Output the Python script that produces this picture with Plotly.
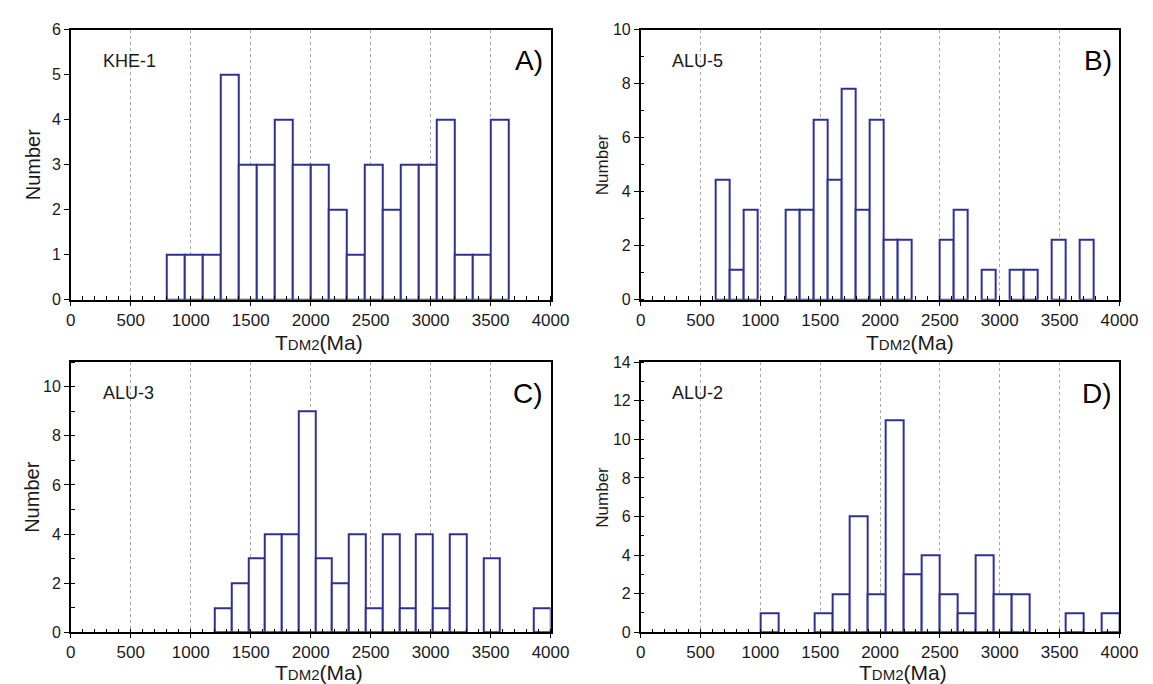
import plotly.graph_objects as go

# ---------------- data ----------------
# Panel A  (KHE-1)
A_bin_left = [800, 950, 1100, 1250, 1400, 1550, 1700, 1850, 2000, 2150,
              2300, 2450, 2600, 2750, 2900, 3050, 3200, 3350, 3500]
A_bin_width = 150
A_counts = [1, 1, 1, 5, 3, 3, 4, 3, 3, 2, 1, 3, 2, 3, 3, 4, 1, 1, 4]

# Panel B  (ALU-5)
B_bin_left = [627, 744, 861, 978, 1095, 1212, 1329, 1446, 1563, 1680, 1797,
              1914, 2031, 2148, 2265, 2382, 2499, 2616, 2733, 2850, 2967,
              3084, 3201, 3318, 3435, 3552, 3669]
B_bin_width = 117
B_counts = [4.45, 1.12, 3.34, 0, 0, 3.34, 3.34, 6.68, 4.45, 7.8, 3.34,
            6.68, 2.23, 2.23, 0, 0, 2.23, 3.34, 0, 1.12, 0,
            1.12, 1.12, 0, 2.23, 0, 2.23]

# Panel C  (ALU-3)
C_bin_left = [1200, 1340, 1480, 1620, 1760, 1900, 2040, 2180, 2320, 2460,
              2600, 2740, 2880, 3020, 3160, 3300, 3440, 3580, 3720, 3860]
C_bin_width = 140
C_counts = [1, 2, 3, 4, 4, 9, 3, 2, 4, 1, 4, 1, 4, 1, 4, 0, 3, 0, 0, 1]

# Panel D  (ALU-2)
D_bin_left = [1000, 1150, 1300, 1450, 1600, 1750, 1900, 2050, 2200, 2350,
              2500, 2650, 2800, 2950, 3100, 3250, 3400, 3550, 3700, 3850]
D_bin_width = 150
D_counts = [1, 0, 0, 1, 2, 6, 2, 11, 3, 4, 2, 1, 4, 2, 2, 0, 0, 1, 0, 1]

sample_names = ["KHE-1", "ALU-5", "ALU-3", "ALU-2"]
panel_letters = ["A)", "B)", "C)", "D)"]
x_ticks = [0, 500, 1000, 1500, 2000, 2500, 3000, 3500, 4000]
y_max = [6, 10, 11, 14]
y_dtick = [1, 2, 2, 2]

# ---------------- styling ----------------
W, H = 1153, 684
BAR_COLOR = "#2E3192"
FONT = "Liberation Sans, Arial, sans-serif"
TXT = "#1a1a1a"

# plot-area pixel boxes (left, right, top, bottom)
boxes = [(59, 549, 14, 291), (641, 1130, 14, 291),
         (59, 549, 355, 632), (641, 1130, 355, 632)]

panels = [(A_bin_left, A_bin_width, A_counts),
          (B_bin_left, B_bin_width, B_counts),
          (C_bin_left, C_bin_width, C_counts),
          (D_bin_left, D_bin_width, D_counts)]

fig = go.Figure()
layout = dict(width=W, height=H, margin=dict(l=0, r=0, t=0, b=0),
              paper_bgcolor="white", plot_bgcolor="white",
              showlegend=False, bargap=0, annotations=[])

ytitle_size = [20, 17, 20, 17]
xtitle_center = [313, 916, 313, 909]
xtitle_y = [335, 335, 673, 673]

for i, ((left, width, counts), (l, r, t, b)) in enumerate(zip(panels, boxes)):
    k = "" if i == 0 else str(i + 1)
    xs = [x for x, c in zip(left, counts) if c > 0]
    ys = [c for c in counts if c > 0]
    fig.add_trace(go.Bar(
        x=xs, y=ys, width=[width] * len(xs), offset=0,
        marker=dict(color="white", line=dict(color=BAR_COLOR, width=2)),
        xaxis="x" + k, yaxis="y" + k, hoverinfo="x+y"))

    layout["xaxis" + k] = dict(
        domain=[l / W, r / W], anchor="y" + k, range=[0, 4000],
        tickmode="array", tickvals=x_ticks,
        ticks="outside", ticklen=4, tickwidth=1.3, tickcolor="black",
        minor=dict(dtick=100, tick0=0, ticks="inside", ticklen=4,
                   tickwidth=1.3, tickcolor="black", showgrid=False),
        showgrid=True, gridcolor="#a8a8a8", griddash="3px,3px", gridwidth=1,
        showline=True, linecolor="black", linewidth=1.5, mirror=True,
        zeroline=False, tickfont=dict(family=FONT, size=17, color=TXT),
        fixedrange=True)
    ymin_kw = {}
    if y_dtick[i] == 2:
        ymin_kw = dict(minor=dict(dtick=1, tick0=0, ticks="inside", ticklen=4,
                                  tickwidth=1.3, tickcolor="black",
                                  showgrid=False))
    layout["yaxis" + k] = dict(
        domain=[1 - b / H, 1 - t / H], anchor="x" + k,
        range=[0, y_max[i]], dtick=y_dtick[i], tick0=0,
        ticks="outside", ticklen=5, tickwidth=1.3, tickcolor="black",
        showgrid=False, showline=True, linecolor="black", linewidth=1.5,
        mirror=True, zeroline=False,
        tickfont=dict(family=FONT, size=16, color=TXT), fixedrange=True,
        **ymin_kw)

    # sample label
    layout["annotations"].append(dict(
        text=sample_names[i], xref="x" + k + " domain", yref="y" + k + " domain",
        x=0.062, y=0.885, xanchor="left", yanchor="middle", showarrow=False,
        font=dict(family=FONT, size=18, color=TXT)))
    # panel letter
    layout["annotations"].append(dict(
        text=panel_letters[i], xref="x" + k + " domain", yref="y" + k + " domain",
        x=0.988, y=0.885, xanchor="right", yanchor="middle", showarrow=False,
        font=dict(family=FONT, size=28, color="black")))
    # y title
    layout["annotations"].append(dict(
        text="Number", xref="paper", yref="paper",
        x=(l - 39) / W, y=1 - (t + b) / 2 / H, xanchor="center",
        yanchor="middle", textangle=-90, showarrow=False,
        font=dict(family=FONT, size=ytitle_size[i], color=TXT)))
    # x title
    layout["annotations"].append(dict(
        text="T<span style='font-size:15px'>DM2</span>(Ma)",
        xref="paper", yref="paper", x=xtitle_center[i] / W,
        y=1 - xtitle_y[i] / H, xanchor="center", yanchor="middle",
        showarrow=False, borderpad=0,
        font=dict(family=FONT, size=21, color=TXT)))

fig.update_layout(**layout)
fig.write_html("out.html")
